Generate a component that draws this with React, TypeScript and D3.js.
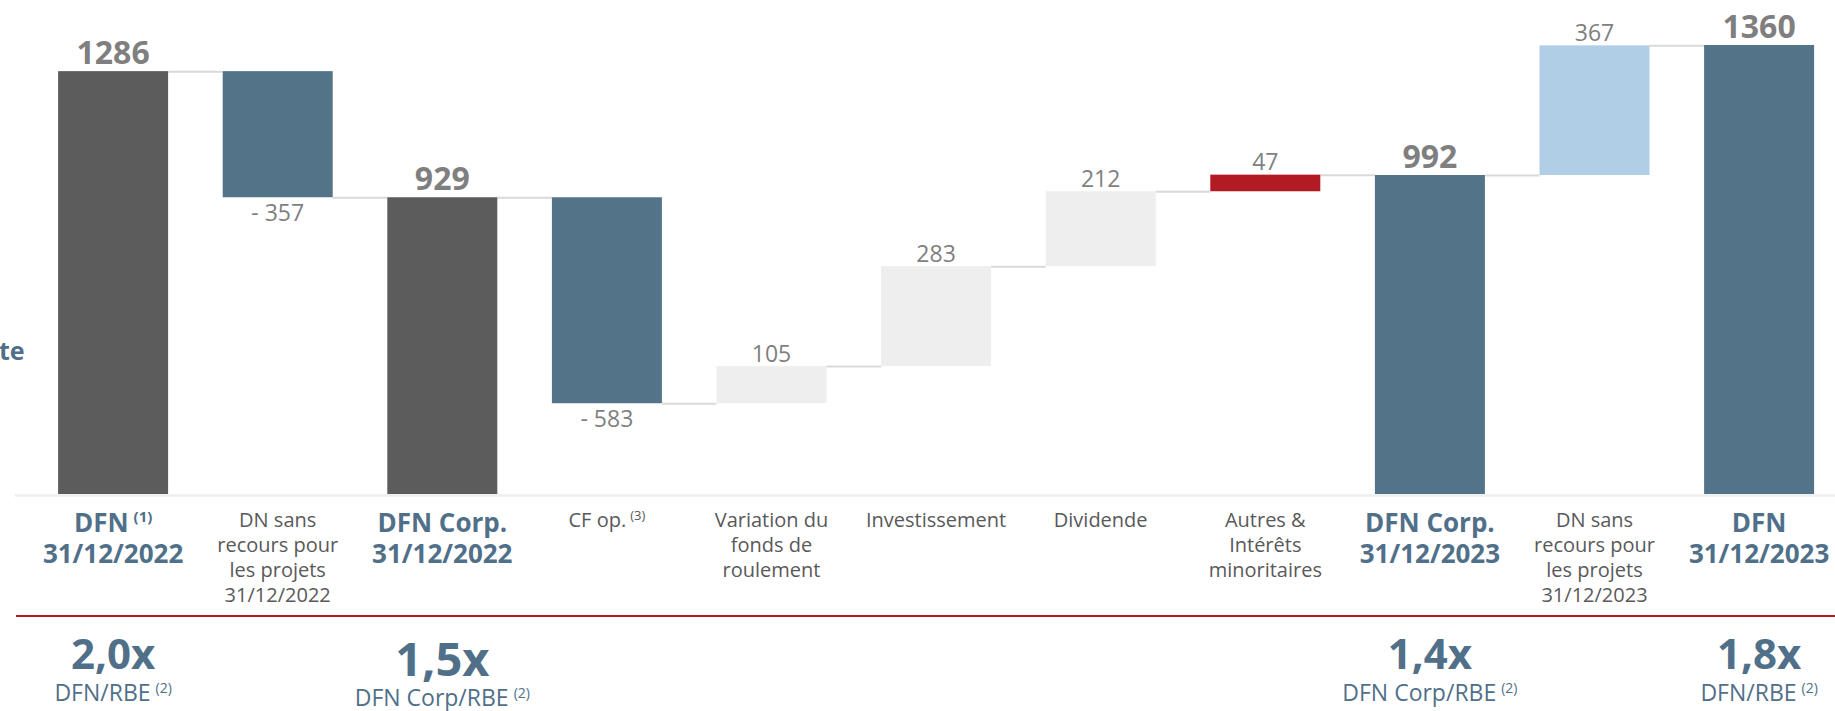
import React, { useEffect } from "react";
import * as d3 from "d3";

// ---- Data ----
const categoryLines: string[][] = [
  ["DFN", "31/12/2022"],
  ["DN sans", "recours pour", "les projets", "31/12/2022"],
  ["DFN Corp.", "31/12/2022"],
  ["CF op."],
  ["Variation du", "fonds de", "roulement"],
  ["Investissement"],
  ["Dividende"],
  ["Autres &", "Intérêts", "minoritaires"],
  ["DFN Corp.", "31/12/2023"],
  ["DN sans", "recours pour", "les projets", "31/12/2023"],
  ["DFN", "31/12/2023"],
];
const categorySup = ["(1)", "", "", "(3)", "", "", "", "", "", "", ""];
const values = [1286, -357, 929, -583, 105, 283, 212, 47, 992, 367, 1360];
const isTotal = [true, false, true, false, false, false, false, false, true, false, true];
const barColors = [
  "#5c5c5c", "#537389", "#5c5c5c", "#537389", "#eeeeee", "#eeeeee",
  "#eeeeee", "#b21b23", "#537389", "#b0cee5", "#537389",
];
const ratioBars = [0, 2, 8, 10];
const ratioLabels = ["2,0x", "1,5x", "1,4x", "1,8x"];
const ratioSubs = ["DFN/RBE", "DFN Corp/RBE", "DFN Corp/RBE", "DFN/RBE"];
const ratioBig = [false, true, false, false];
const axisBaseValue = 89;
const axisMaxValue = 1360;

const W = 1835;
const H = 711;
const FONT = "'Open Sans', 'Noto Sans', sans-serif";
const BLUE_TEXT = "#50708a";
const GREY_TEXT = "#595959";
const VALUE_TEXT = "#7f7f7f";

export default function App() {
  useEffect(() => {
    document.body.style.margin = "0";
  }, []);

  const x = d3
    .scaleBand<number>()
    .domain(values.map((_, i) => i))
    .range([30.8, 1841.4])
    .paddingInner(0.3317)
    .paddingOuter(0.16585);
  const y = d3.scaleLinear().domain([axisBaseValue, axisMaxValue]).range([494, 45]);
  const bw = x.bandwidth();

  // compute bars
  let running = 0;
  const bars = values.map((v, i) => {
    if (isTotal[i]) {
      running = v;
      return { lo: axisBaseValue, hi: v, level: v };
    }
    const start = running;
    running = running + v;
    return { lo: Math.min(start, running), hi: Math.max(start, running), level: running };
  });

  const connectors = bars.slice(0, -1).map((b, i) => {
    const lvl = isTotal[i] ? values[i] : bars[i].level;
    return { x1: (x(i) as number) + bw, x2: x(i + 1) as number, y: y(lvl) };
  });

  return (
    <svg
      width={W}
      height={H}
      style={{ position: "absolute", left: 0, top: 0, background: "#fff" }}
      fontFamily={FONT}
    >
      {/* left title fragment (clipped in the original slide) */}
      <text x={-1} y={360} fontSize={25} fontWeight={700} fill={BLUE_TEXT}>
        te
      </text>

      {/* axis line */}
      <line x1={15} x2={W} y1={y(axisBaseValue) + 1.5} y2={y(axisBaseValue) + 1.5} stroke="#eeeeee" strokeWidth={2.5} />

      {/* connectors */}
      {connectors.map((c, i) => (
        <line key={"c" + i} x1={c.x1} x2={c.x2} y1={c.y + 0.5} y2={c.y + 0.5} stroke="#d9d9d9" strokeWidth={2} />
      ))}

      {/* bars */}
      {bars.map((b, i) => (
        <rect
          key={"b" + i}
          x={x(i)}
          y={y(b.hi)}
          width={bw}
          height={y(b.lo) - y(b.hi)}
          fill={barColors[i]}
        />
      ))}

      {/* value labels */}
      {bars.map((b, i) => {
        const cx = (x(i) as number) + bw / 2;
        if (isTotal[i]) {
          return (
            <text key={"v" + i} x={cx} y={y(b.hi) - 7.5} textAnchor="middle" fontSize={32} fontWeight={700} fill={VALUE_TEXT}>
              {values[i]}
            </text>
          );
        }
        if (values[i] < 0) {
          return (
            <text key={"v" + i} x={cx} y={y(b.lo) + 24} textAnchor="middle" fontSize={23} fill={VALUE_TEXT}>
              {"- " + Math.abs(values[i])}
            </text>
          );
        }
        return (
          <text key={"v" + i} x={cx} y={y(b.hi) - 4.5} textAnchor="middle" fontSize={23} fill={VALUE_TEXT}>
            {values[i]}
          </text>
        );
      })}

      {/* category labels */}
      {categoryLines.map((lines, i) => {
        const cx = (x(i) as number) + bw / 2;
        const bold = isTotal[i];
        const lh = bold ? 31 : 25;
        return (
          <text
            key={"l" + i}
            x={cx}
            y={bold ? 531.5 : 526.5}
            textAnchor="middle"
            fontSize={bold ? 26 : 20}
            fontWeight={bold ? 700 : 400}
            fill={bold ? BLUE_TEXT : GREY_TEXT}
          >
            {lines.map((ln, j) => (
              <tspan key={j} x={cx} y={(bold ? 531.5 : 526.5) + j * lh}>
                {ln}
                {j === 0 && categorySup[i] ? (
                  <tspan fontSize={bold ? 15 : 13} dx={bold ? 5 : 4} dy={bold ? -10 : -7}>
                    {categorySup[i]}
                  </tspan>
                ) : null}
              </tspan>
            ))}
          </text>
        );
      })}

      {/* red separator */}
      <line x1={16} x2={W} y1={616} y2={616} stroke="#b21b23" strokeWidth={2} />

      {/* ratios */}
      {ratioBars.map((bi, k) => {
        const cx = (x(bi) as number) + bw / 2;
        const big = ratioBig[k];
        return (
          <text key={"r" + k} textAnchor="middle" fill={BLUE_TEXT}>
            <tspan x={cx} y={big ? 676 : 669} fontSize={big ? 47 : 42} fontWeight={700}>
              {ratioLabels[k]}
            </tspan>
            <tspan x={cx} y={big ? 705.5 : 700.5} fontSize={23}>
              {ratioSubs[k]}
              <tspan fontSize={14} dx={5} dy={-8}>
                (2)
              </tspan>
            </tspan>
          </text>
        );
      })}
    </svg>
  );
}
